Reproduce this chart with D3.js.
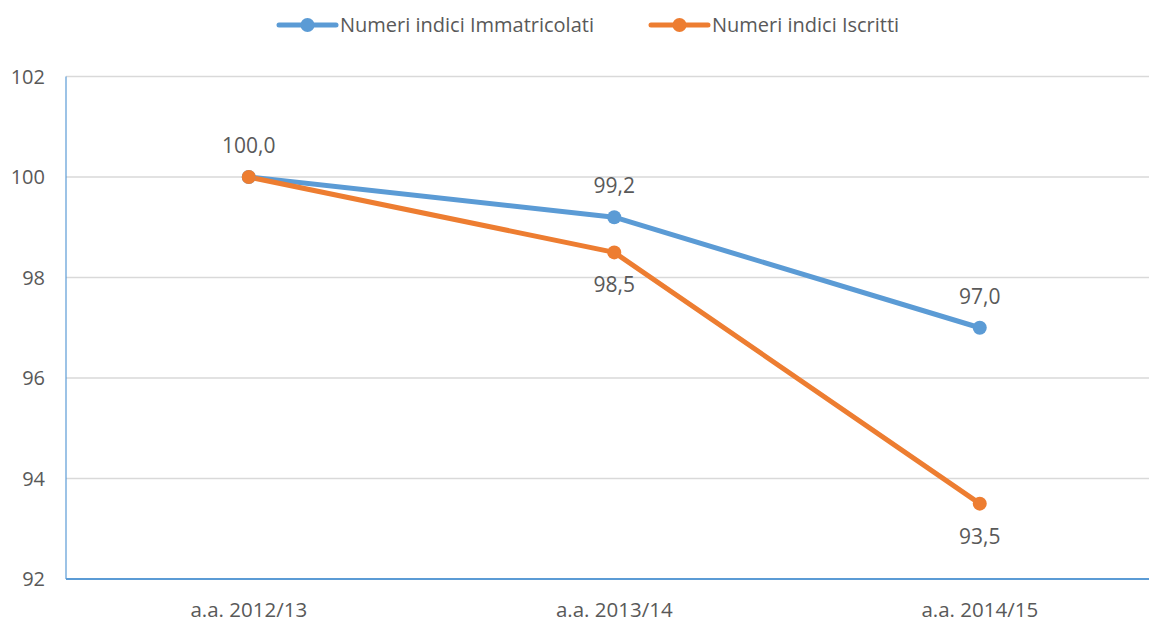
<!DOCTYPE html>
<meta charset="utf-8">
<html>
<head>
<script src="https://d3js.org/d3.v7.min.js"></script>
<style>
  body { margin: 0; background: #fff; }
  text { font-family: "Open Sans", "Liberation Sans", Arial, sans-serif; fill: #595959; }
</style>
</head>
<body>
<div id="viz"></div>
<script>
const categories = ["a.a. 2012/13", "a.a. 2013/14", "a.a. 2014/15"];
const immatricolati = [100.0, 99.2, 97.0];
const iscritti = [100.0, 98.5, 93.5];
const yTicks = [92, 94, 96, 98, 100, 102];

const series = [
  {name: "Numeri indici Immatricolati", values: immatricolati, color: "#5B9BD5", labelPos: "above"},
  {name: "Numeri indici Iscritti", values: iscritti, color: "#ED7D31", labelPos: ["none", "below", "below"]}
];

const w = 1149, h = 622;
const margin = {top: 76.5, left: 66, bottom: 43};

const svg = d3.select("#viz").append("svg")
  .attr("width", w).attr("height", h);

const x = d3.scaleBand()
  .domain(categories)
  .range([margin.left, margin.left + 3 * 365.5]);

const y = d3.scaleLinear()
  .domain([92, 102])
  .range([h - margin.bottom, margin.top]);

// gridlines
svg.append("g").selectAll("line")
  .data(yTicks.filter(d => d !== 92))
  .join("line")
  .attr("x1", margin.left).attr("x2", w)
  .attr("y1", d => y(d)).attr("y2", d => y(d))
  .attr("stroke", "#d9d9d9").attr("stroke-width", 1.5);

// y tick labels
svg.append("g").selectAll("text")
  .data(yTicks)
  .join("text")
  .attr("x", 45).attr("y", d => y(d))
  .attr("dy", "0.35em")
  .attr("text-anchor", "end")
  .style("font-size", "20px")
  .text(d => d);

// axes lines
svg.append("line")
  .attr("x1", margin.left).attr("x2", margin.left)
  .attr("y1", y(102)).attr("y2", y(92))
  .attr("stroke", "#5B9BD5").attr("stroke-width", 1.2);
svg.append("line")
  .attr("x1", margin.left).attr("x2", w)
  .attr("y1", y(92)).attr("y2", y(92))
  .attr("stroke", "#5B9BD5").attr("stroke-width", 2);

// x labels
svg.append("g").selectAll("text")
  .data(categories)
  .join("text")
  .attr("x", d => x(d) + x.bandwidth() / 2)
  .attr("y", 617)
  .attr("text-anchor", "middle")
  .style("font-size", "20.5px")
  .text(d => d);

const line = d3.line()
  .x((d, i) => x(categories[i]) + x.bandwidth() / 2)
  .y(d => y(d));

series.forEach(s => {
  svg.append("path")
    .datum(s.values)
    .attr("fill", "none")
    .attr("stroke", s.color)
    .attr("stroke-width", 5)
    .attr("stroke-linejoin", "round")
    .attr("d", line);
});

series.forEach(s => {
  svg.append("g").selectAll("circle")
    .data(s.values)
    .join("circle")
    .attr("cx", (d, i) => x(categories[i]) + x.bandwidth() / 2)
    .attr("cy", d => y(d))
    .attr("r", 7)
    .attr("fill", s.color);
});

// data labels
series.forEach(s => {
  s.values.forEach((v, i) => {
    const pos = Array.isArray(s.labelPos) ? s.labelPos[i] : s.labelPos;
    if (pos === "none") return;
    svg.append("text")
      .attr("x", x(categories[i]) + x.bandwidth() / 2)
      .attr("y", y(v) + (pos === "above" ? -24 : 40))
      .attr("text-anchor", "middle")
      .style("font-size", "21px")
      .text(d3.format(".1f")(v).replace(".", ","));
  });
});

// legend
const legend = svg.append("g");
const legendItems = [
  {s: series[0], x0: 279},
  {s: series[1], x0: 651}
];
legendItems.forEach(({s, x0}) => {
  legend.append("line")
    .attr("x1", x0).attr("x2", x0 + 57)
    .attr("y1", 25).attr("y2", 25)
    .attr("stroke", s.color).attr("stroke-width", 5)
    .attr("stroke-linecap", "round");
  legend.append("circle")
    .attr("cx", x0 + 28.5).attr("cy", 25).attr("r", 7)
    .attr("fill", s.color);
  legend.append("text")
    .attr("x", x0 + 61).attr("y", 25)
    .attr("dy", "0.35em")
    .style("font-size", "20px")
    .text(s.name);
});
</script>
</body>
</html>
